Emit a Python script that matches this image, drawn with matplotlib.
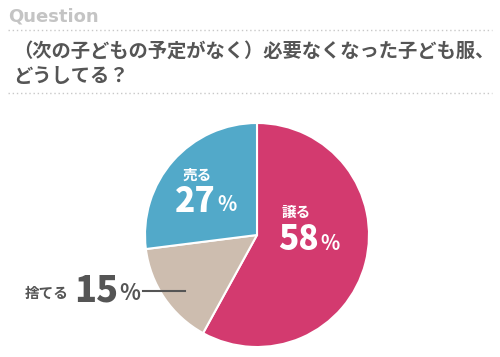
import matplotlib
matplotlib.use("Agg")
import matplotlib.pyplot as plt
from matplotlib.lines import Line2D

plt.rcParams['font.family'] = ['Noto Sans CJK JP', 'DejaVu Sans']

labels = ["譲る", "捨てる", "売る"]
values = [58, 15, 27]
colors = ["#d33a6f", "#cdbdaf", "#52a9c9"]

W, H = 500, 357
fig = plt.figure(figsize=(5, 3.57), dpi=100)
fig.patch.set_facecolor("white")

def px(x, y):
    return x / W, 1 - y / H

# header
fig.text(*px(8, 17), "Question", color="#c4c4c4", fontsize=13, fontweight="bold",
         va="center", ha="left", family=["Liberation Sans Narrow", "DejaVu Sans"])
for yy in (30, 93):
    fig.add_artist(Line2D([0.016, 0.984], [1 - yy / H] * 2, color="#c8c8c8",
                          lw=1, ls=(0, (1, 2)), transform=fig.transFigure))
fig.text(*px(13, 51), "（次の子どもの予定がなく）必要なくなった子ども服、",
         color="#555555", fontsize=13.9, fontweight="bold", va="center", ha="left")
fig.text(*px(13, 76), "どうしてる？", color="#555555", fontsize=13.9,
         fontweight="bold", va="center", ha="left")

# pie
cx, cy, r = 257, 235, 112
ax = fig.add_axes([(cx - r) / W, 1 - (cy + r) / H, 2 * r / W, 2 * r / H])
ax.pie(values, colors=colors, startangle=90, counterclock=False,
       wedgeprops=dict(edgecolor="white", linewidth=1.5))
ax.set_aspect("auto")
ax.set_xlim(-1, 1)
ax.set_ylim(-1, 1)

# labels: name, then number with a smaller percent sign
def put(name, val, nx, ny, dx, dy, col, big=24):
    fig.text(*px(nx, ny), name, color=col, fontsize=10.5, fontweight="bold",
             ha="center", va="center")
    fig.text(*px(dx, dy), str(val), color=col, fontsize=big, fontweight="heavy",
             style="italic", ha="right", va="center")
    fig.text(*px(dx + 1, dy + 3), "%", color=col, fontsize=big * 0.6,
             fontweight="bold", style="italic", ha="left", va="center")

put(labels[2], values[2], 197, 175, 216, 202, "white")
put(labels[0], values[0], 296, 212, 319, 240, "white")
put(labels[1], values[1], 47, 293, 118, 291, "#555555", big=26)
fig.add_artist(Line2D([143 / W, 185 / W], [1 - 291 / H] * 2, color="#555555",
                      lw=1.5, transform=fig.transFigure))

fig.savefig("out.png", dpi=100)
